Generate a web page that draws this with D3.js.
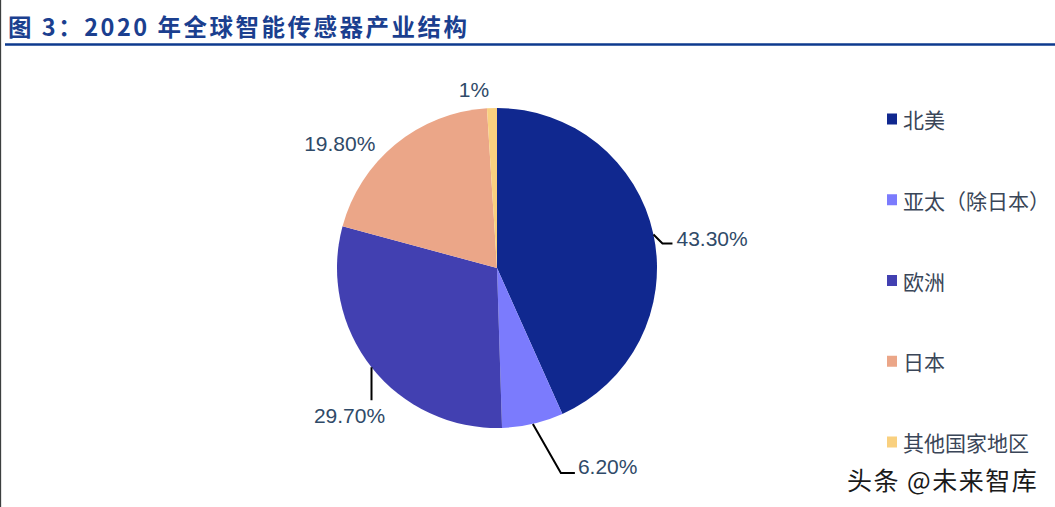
<!DOCTYPE html>
<html><head><meta charset="utf-8">
<script src="https://cdn.jsdelivr.net/npm/d3@7"></script>
<style>
html,body{margin:0;padding:0;background:#fff;}
svg{display:block;}
</style></head>
<body>
<svg id="chart" width="1055" height="507"></svg>
<script>
// ---- data ----
const categories = ["北美", "亚太（除日本）", "欧洲", "日本", "其他国家地区"];
const shares = [43.3, 6.2, 29.7, 19.8, 1];
const valueLabels = ["43.30%", "6.20%", "29.70%", "19.80%", "1%"];
const colors = ["#10288F", "#7B7BFD", "#4240B1", "#EBA688", "#F9D07F"];
const titleText = "图 3：2020 年全球智能传感器产业结构";
const watermark = "头条 @未来智库";

// ---- label layout (leader elbow offsets & text offsets relative to slice edge) ----
const labelLayout = [
  {elbow:[9,9], run:10, tx:4, ty:-5, anchor:"start", line:true},
  {elbow:[28,49], run:14, tx:3, ty:-6, anchor:"start", line:true},
  {elbow:[0,33], run:0, tx:-22, ty:15, anchor:"middle", line:true},
  {elbow:[0,0], run:0, tx:-56, ty:-1, anchor:"middle", line:false},
  {elbow:[0,0], run:0, tx:-18, ty:-19, anchor:"middle", line:false}
];

const svg = d3.select("#chart");
const W = 1055, H = 507;

// left border
svg.append("line").attr("x1",0.5).attr("x2",0.5).attr("y1",0).attr("y2",H)
  .attr("stroke","#3c3f3f").attr("stroke-width",1.3);

// title
svg.append("text").attr("x",8).attr("y",36)
  .attr("font-family","'Noto Sans CJK SC', 'Liberation Sans', sans-serif")
  .attr("font-weight","bold").attr("font-size",23.5).attr("letter-spacing",2.5)
  .attr("fill","#1B3F8F").text(titleText);
svg.append("line").attr("x1",5).attr("x2",W).attr("y1",44.5).attr("y2",44.5)
  .attr("stroke","#0D3A8E").attr("stroke-width",2.5);

// pie
const cx = 497, cy = 268, R = 160;
const pie = d3.pie().sort(null).value(d => d)(shares);
const arc = d3.arc().innerRadius(0).outerRadius(R);
const g = svg.append("g").attr("transform",`translate(${cx},${cy})`);
g.selectAll("path.slice").data(pie).join("path").attr("class","slice")
  .attr("d", arc).attr("fill",(d,i)=>colors[i]);

// labels
const edge = d => {
  const a = (d.startAngle + d.endAngle)/2;
  return [R*Math.sin(a), -R*Math.cos(a)];
};
pie.forEach((d,i)=>{
  const L = labelLayout[i];
  const [ex,ey] = edge(d);
  const bx = ex + L.elbow[0], by = ey + L.elbow[1];
  const endx = bx + L.run;
  if (L.line) {
    g.append("polyline")
      .attr("points",`${ex},${ey} ${bx},${by} ${endx},${by}`)
      .attr("fill","none").attr("stroke","#000").attr("stroke-width",2);
  }
  g.append("text")
    .attr("x", endx + L.tx).attr("y", by + L.ty)
    .attr("dominant-baseline","central")
    .attr("text-anchor", L.anchor)
    .attr("font-family","'Liberation Sans', Arial, sans-serif")
    .attr("font-size",21).attr("fill","#2F4A68")
    .text(valueLabels[i]);
});

// legend
const ly = d3.scalePoint().domain(categories).range([119, 442]);
const lg = svg.append("g");
categories.forEach((c,i)=>{
  lg.append("rect").attr("x",887).attr("y",ly(c)-5.5).attr("width",10).attr("height",11)
    .attr("fill",colors[i]);
  lg.append("text").attr("x",903).attr("y",ly(c)).attr("dominant-baseline","central")
    .attr("font-family","'Noto Sans CJK SC', sans-serif").attr("font-size",21)
    .attr("fill","#3A4658").text(c);
});

// watermark
svg.append("text").attr("x",847).attr("y",479).attr("dominant-baseline","central")
  .attr("font-family","'Noto Sans CJK SC', sans-serif").attr("font-size",25)
  .attr("letter-spacing",1.5)
  .attr("fill","#1a1a1a").attr("stroke","#fff").attr("stroke-width",2.5)
  .attr("paint-order","stroke").text(watermark);
</script>
</body></html>
